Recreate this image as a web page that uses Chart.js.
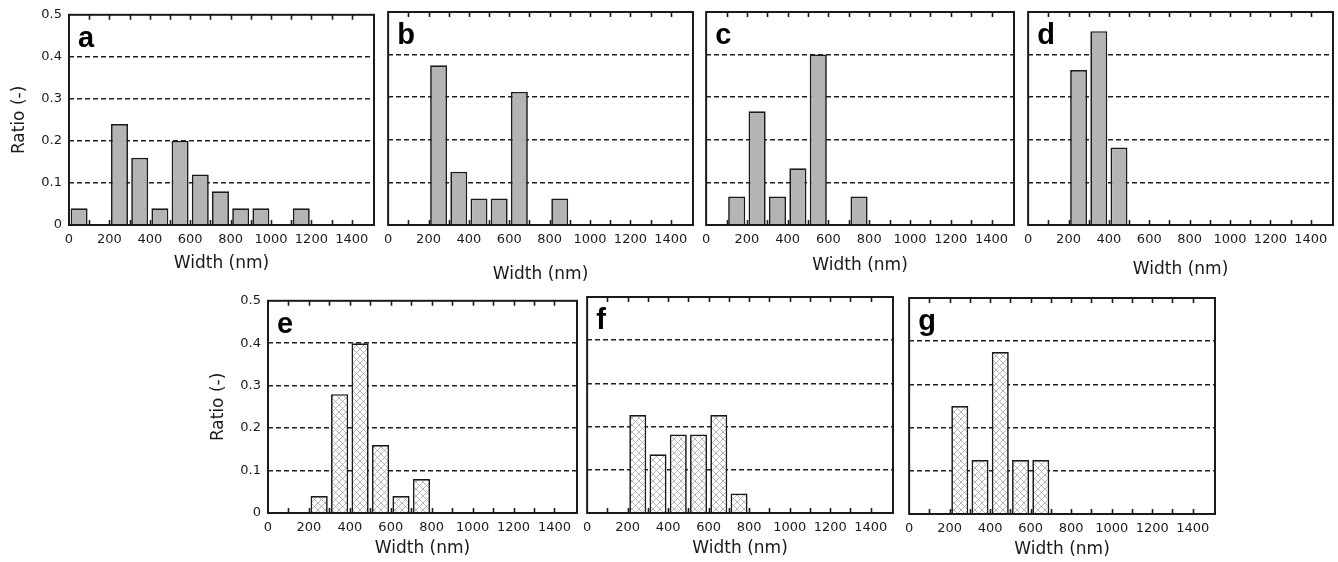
<!DOCTYPE html>
<html>
<head>
<meta charset="utf-8">
<script src="https://cdn.jsdelivr.net/npm/chart.js@4.4.1/dist/chart.umd.min.js"></script>
<style>
  body { margin: 0; background: #fff; overflow: hidden; }
  #wrap { position: relative; width: 1338px; height: 562px; }
  #wrap canvas { position: absolute; }
</style>
</head>
<body>
<div id="wrap"></div>
<script>
// histogram bins (nm), 100 nm wide
const binStarts = [0, 100, 200, 300, 400, 500, 600, 700, 800, 900, 1000, 1100, 1200, 1300, 1400];
const binWidth = 100;
const xTickLabels = [0, 200, 400, 600, 800, 1000, 1200, 1400];
const yTickLabels = [0, 0.1, 0.2, 0.3, 0.4, 0.5];

// ratio per bin
const ratioA = [0.04, 0, 0.24, 0.16, 0.04, 0.20, 0.12, 0.08, 0.04, 0.04, 0, 0.04, 0, 0, 0];
const ratioB = [0, 0, 0.375, 0.125, 0.0625, 0.0625, 0.3125, 0, 0.0625, 0, 0, 0, 0, 0, 0];
const ratioC = [0, 0.067, 0.267, 0.067, 0.133, 0.40, 0, 0.067, 0, 0, 0, 0, 0, 0, 0];
const ratioD = [0, 0, 0.364, 0.455, 0.182, 0, 0, 0, 0, 0, 0, 0, 0, 0, 0];
const ratioE = [0, 0, 0.04, 0.28, 0.40, 0.16, 0.04, 0.08, 0, 0, 0, 0, 0, 0, 0];
const ratioF = [0, 0, 0.227, 0.136, 0.182, 0.182, 0.227, 0.045, 0, 0, 0, 0, 0, 0, 0];
const ratioG = [0, 0, 0.25, 0.125, 0.375, 0.125, 0.125, 0, 0, 0, 0, 0, 0, 0, 0];

const panels = [
  { letter: 'a', values: ratioA, hatched: false, plot: [69, 12, 374, 225], yLabels: true, titleGap: 39 },
  { letter: 'b', values: ratioB, hatched: false, plot: [387, 12, 693, 225], yLabels: false, titleGap: 50 },
  { letter: 'c', values: ratioC, hatched: false, plot: [705, 12, 1014, 225], yLabels: false, titleGap: 41 },
  { letter: 'd', values: ratioD, hatched: false, plot: [1027, 12, 1333, 225], yLabels: false, titleGap: 45 },
  { letter: 'e', values: ratioE, hatched: true, plot: [268, 298, 577, 513], yLabels: true, titleGap: 35.5 },
  { letter: 'f', values: ratioF, hatched: true, plot: [586, 297, 893, 513], yLabels: false, titleGap: 35.5 },
  { letter: 'g', values: ratioG, hatched: true, plot: [908, 298, 1215, 514], yLabels: false, titleGap: 35.5 }
];

const FONT = '"DejaVu Sans", Verdana, sans-serif';
const INK = '#1a1a1a';

function makeHatch() {
  const c = document.createElement('canvas');
  c.width = 7; c.height = 7;
  const g = c.getContext('2d');
  g.fillStyle = '#ffffff';
  g.fillRect(0, 0, 7, 7);
  g.strokeStyle = '#a2a2a2';
  g.lineWidth = 0.8;
  g.beginPath();
  g.moveTo(0, 0); g.lineTo(7, 7);
  g.moveTo(7, 0); g.lineTo(0, 7);
  g.stroke();
  return g.createPattern(c, 'repeat');
}

// frame, inward minor ticks and the panel letter
const framePlugin = {
  id: 'frame',
  afterDatasetsDraw(chart, args, opts) {
    const { ctx, chartArea: a, scales: { x } } = chart;
    ctx.save();
    ctx.strokeStyle = INK;
    ctx.lineWidth = 1.6;
    ctx.beginPath();
    binStarts.slice(1).forEach(v => {
      const px = Math.round(x.getPixelForValue(v)) + 0.5;
      ctx.moveTo(px, a.top); ctx.lineTo(px, a.top + 5);
      ctx.moveTo(px, a.bottom); ctx.lineTo(px, a.bottom - 5);
    });
    ctx.stroke();
    ctx.lineWidth = 2;
    ctx.strokeRect(a.left, a.top, a.right - a.left, a.bottom - a.top);
    ctx.fillStyle = '#000';
    ctx.font = 'bold 29px "Liberation Sans", Arial, sans-serif';
    ctx.textBaseline = 'alphabetic';
    ctx.fillText(opts.letter, a.left + 9, a.top + 32);
    ctx.restore();
  }
};

const wrap = document.getElementById('wrap');
const titleLH = 17 * 1.2;

panels.forEach(p => {
  const [L, T, R, B] = p.plot;
  const yw = p.yLabels ? 69 : 10;
  const padT = 12, padR = 6;
  const xh = T < 100 ? 70 : 46;
  const cl = L - yw, ct = T - padT;
  const cw = R - cl + padR, ch = B - ct + xh;

  const canvas = document.createElement('canvas');
  canvas.width = cw; canvas.height = ch;
  canvas.style.left = cl + 'px';
  canvas.style.top = ct + 'px';
  wrap.appendChild(canvas);

  const data = binStarts
    .map((b, i) => ({ x: b + binWidth / 2, y: p.values[i] }))
    .filter(d => d.y > 0);

  new Chart(canvas.getContext('2d'), {
    type: 'bar',
    data: {
      datasets: [{
        data: data,
        backgroundColor: p.hatched ? makeHatch() : '#b4b4b4',
        borderColor: INK,
        borderWidth: 1.7,
        barPercentage: 0.84,
        categoryPercentage: 1
      }]
    },
    options: {
      responsive: false,
      animation: false,
      devicePixelRatio: 1,
      layout: { padding: { top: padT, right: padR, left: 0, bottom: 0 } },
      scales: {
        x: {
          type: 'linear',
          offset: false,
          min: 0,
          max: 1510,
          grid: { display: false, drawTicks: false, offset: false },
          border: { display: false },
          ticks: {
            stepSize: 200,
            includeBounds: false,
            autoSkip: false,
            maxRotation: 0,
            padding: 7,
            color: INK,
            font: { family: FONT, size: 13 },
            callback: v => xTickLabels.includes(v) ? String(v) : ''
          },
          title: {
            display: true,
            text: 'Width (nm)',
            color: INK,
            font: { family: FONT, size: 17 },
            padding: { top: 0, bottom: xh - p.titleGap - titleLH / 2 }
          },
          afterFit: s => { s.height = xh; }
        },
        y: {
          min: 0,
          max: 0.5,
          grid: {
            drawTicks: false,
            lineWidth: 1.5,
            color: c => (c.tick && c.tick.value > 0.01 && c.tick.value < 0.49) ? '#222' : 'rgba(0,0,0,0)'
          },
          border: { display: false, dash: [5, 3] },
          ticks: {
            display: p.yLabels,
            stepSize: 0.1,
            padding: 7,
            color: INK,
            font: { family: FONT, size: 13 },
            callback: v => {
              const r = +v.toFixed(1);
              return yTickLabels.includes(r) ? String(r) : '';
            }
          },
          title: {
            display: p.yLabels,
            text: 'Ratio (-)',
            color: INK,
            font: { family: FONT, size: 17 },
            padding: { top: yw - 49 - titleLH / 2, bottom: 0 }
          },
          afterFit: s => { s.width = yw; }
        }
      },
      plugins: {
        legend: { display: false },
        tooltip: { enabled: false },
        frame: { letter: p.letter }
      }
    },
    plugins: [framePlugin]
  });
});
</script>
</body>
</html>
